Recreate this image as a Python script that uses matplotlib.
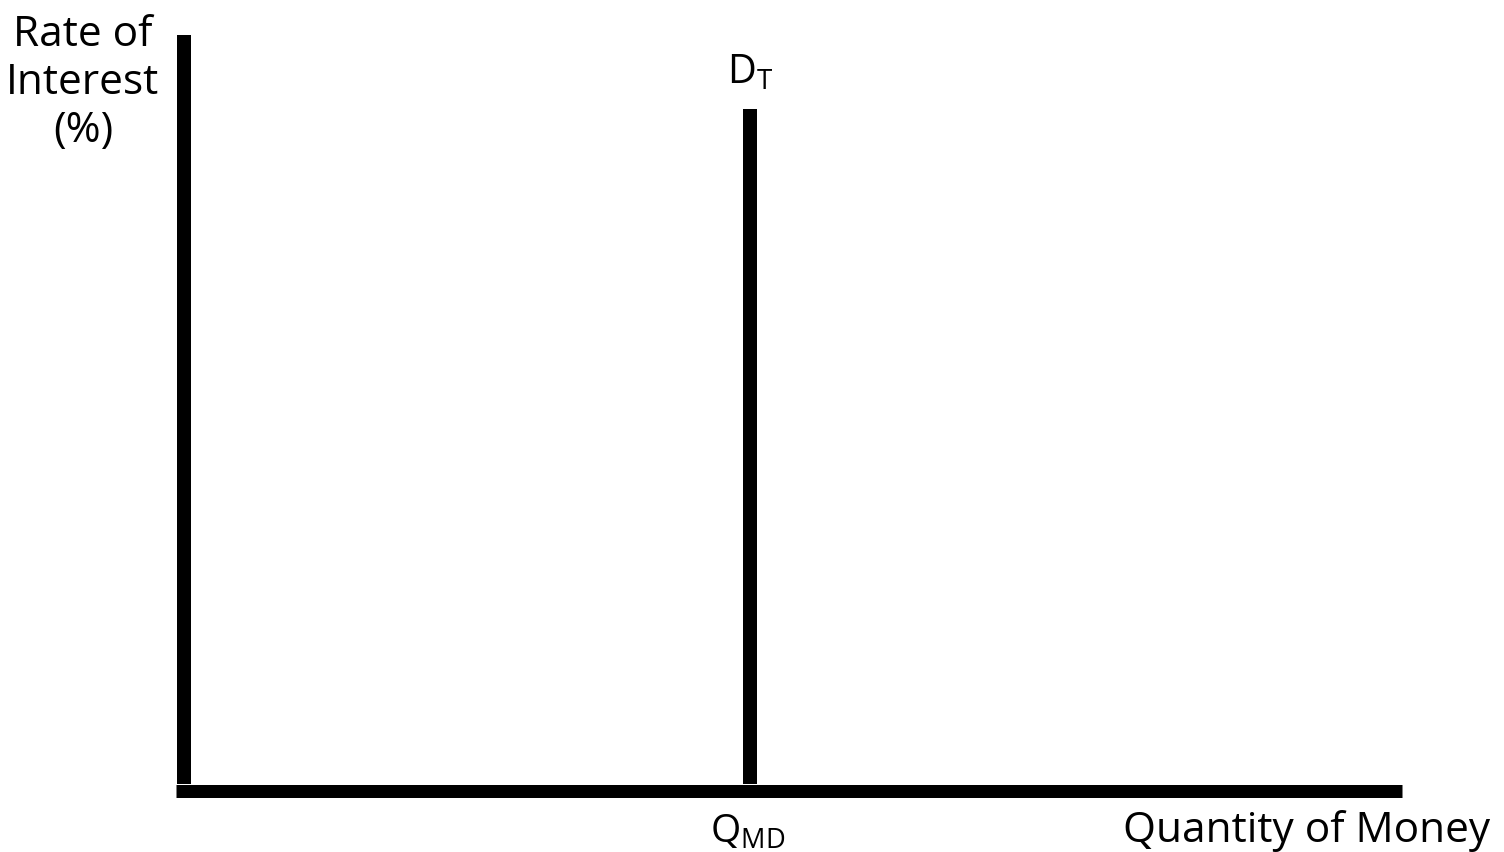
import matplotlib
matplotlib.use("Agg")
import matplotlib.pyplot as plt

# Data (chart units: 0..100 on both axes)
q_md = 46.5          # quantity of money demanded (vertical D_T line)
dt_top = 90.2        # top of the D_T line
axis_top = 100.0
axis_right = 100.0
y_label_lines = ["Rate of", "Interest", "(%)"]
x_label = "Quantity of Money"
dt_label = r"$\mathregular{D_T}$"
qmd_label = r"$\mathregular{Q_{MD}}$"

plt.rcParams['font.family'] = ['Open Sans', 'DejaVu Sans']
plt.rcParams['mathtext.fontset'] = 'custom'
plt.rcParams['mathtext.rm'] = 'Open Sans'

W, H = 1504, 853
fig = plt.figure(figsize=(W / 100, H / 100), dpi=100)
ox, oy, rx, ty = 184, 792, 1402, 36
ax = fig.add_axes([ox / W, (H - oy) / H, (rx - ox) / W, (oy - ty) / H])
ax.set_xlim(0, 100)
ax.set_ylim(0, 100)
ax.axis("off")

lw = 14 * 72 / 100
xpad = 8 / (rx - ox) * 100
ypad = 7 / (oy - ty) * 100
# vertical axis
ax.plot([0, 0], [ypad, axis_top], color="black", lw=lw, solid_capstyle="butt", clip_on=False)
# horizontal axis
ax.plot([-xpad, axis_right], [0, 0], color="black", lw=lw * 13 / 14, solid_capstyle="butt", clip_on=False)
# D_T line
ax.plot([q_md, q_md], [ypad, dt_top], color="black", lw=lw, solid_capstyle="butt", clip_on=False)

fs = 30.5
ax.text(q_md, (oy - 83) / (oy - ty) * 100, dt_label, ha="center", va="baseline", fontsize=28.5)
ax.text(q_md - 0.2, (oy - 843) / (oy - ty) * 100, qmd_label, ha="center", va="baseline", fontsize=28)
fig.text(1490 / W, 1 - 842 / H, x_label, ha="right", va="baseline", fontsize=fs)
for i, line in enumerate(y_label_lines):
    fig.text(83 / W, 1 - (46 + 48 * i) / H, line, ha="center", va="baseline", fontsize=fs)

fig.savefig("out.png", dpi=100)
